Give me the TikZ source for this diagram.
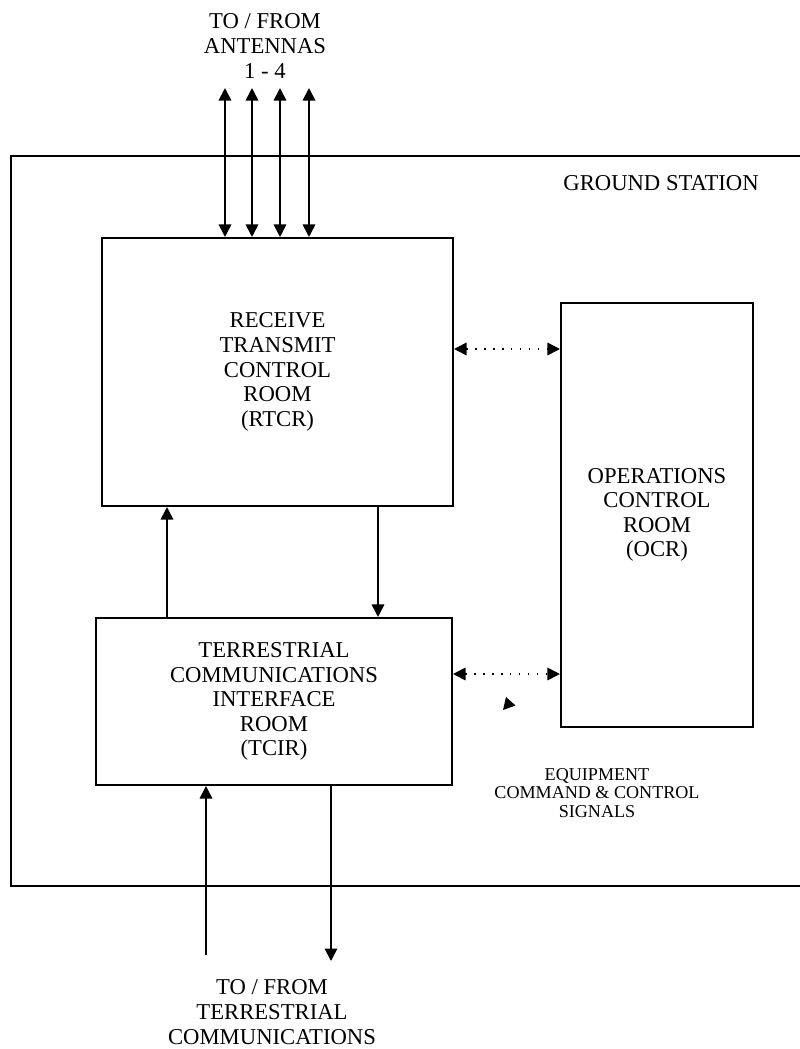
\documentclass[tikz,border=0pt]{standalone}
\usepackage{fontspec}
\setmainfont{Liberation Serif}
\usetikzlibrary{arrows.meta, positioning, calc}

\newcommand{\mainsize}{\fontsize{12.9}{14}\selectfont}
\newcommand{\smallsize}{\fontsize{10.3}{10.6}\selectfont}

\begin{document}
\begin{tikzpicture}[x=0.02cm, y=-0.02cm,
    room/.style={draw, line width=1.2pt, align=center, font=\mainsize, inner sep=0pt},
    link/.style={-{Triangle[length=2.5mm, width=2.5mm]}, line width=1pt},
    both/.style={{Triangle[length=2.5mm, width=2.5mm]}-{Triangle[length=2.5mm, width=2.5mm]}, line width=1pt},
    ctrl/.style={{Triangle[length=2.5mm, width=2.5mm]}-{Triangle[length=2.5mm, width=2.5mm]}, line width=1pt,
      dash pattern=on 0.9pt off 4.2pt},
    caption/.style={align=center, font=\mainsize, inner sep=0pt}]
  \useasboundingbox (0,0) rectangle (800,1049);

  % ground station outline (runs off the right edge)
  \draw[line width=1.3pt] (800,156) -- (11,156) -- (11,886) -- (800,886);
  \node[caption, anchor=east] (gs) at (759,183) {GROUND STATION};

  % rooms
  \node[room, minimum width=7.02cm, minimum height=5.36cm] (rtcr) at (277.5,372)
    {RECEIVE\\TRANSMIT\\CONTROL\\ROOM\\(RTCR)};
  \node[room, minimum width=7.12cm, minimum height=3.34cm] (tcir) at (274,701.5)
    {TERRESTRIAL\\COMMUNICATIONS\\INTERFACE\\ROOM\\(TCIR)};
  \node[room, minimum width=3.84cm, minimum height=8.48cm] (ocr) at (657,515)
    {OPERATIONS\\CONTROL\\ROOM\\(OCR)};

  % antennas
  \node[caption] (ant) at (265,46) {TO / FROM\\ANTENNAS\\1 - 4};
  \coordinate (a1) at (225,88);
  \coordinate (a2) at (252,88);
  \coordinate (a3) at (280,88);
  \coordinate (a4) at (309,88);
  \foreach \a in {a1,a2,a3,a4}
    \draw[both] (\a) -- (\a |- rtcr.north);

  % between rooms
  \coordinate (up1) at (167,0);
  \coordinate (dn1) at (378,0);
  \draw[link] (up1 |- tcir.north) -- (up1 |- rtcr.south);
  \draw[link] (dn1 |- rtcr.south) -- (dn1 |- tcir.north);

  % command & control
  \coordinate (c1) at (0,349);
  \coordinate (c2) at (0,674);
  \draw[ctrl] (rtcr.east |- c1) -- (ocr.west |- c1);
  \draw[ctrl] (tcir.east |- c2) -- (ocr.west |- c2);
  % loose arrowhead
  \fill (506,697) -- (503,710) -- (515.5,705.5) -- cycle;
  \node[align=center, font=\smallsize, inner sep=0pt] (sig) at (597,793)
    {EQUIPMENT\\COMMAND \& CONTROL\\SIGNALS};

  % terrestrial
  \coordinate (t1) at (206,955);
  \coordinate (t2) at (331,961);
  \draw[link] (t1) -- (t1 |- tcir.south);
  \draw[link] (t2 |- tcir.south) -- (t2);
  \node[caption] (terr) at (272,1012) {TO / FROM\\TERRESTRIAL\\COMMUNICATIONS};
\end{tikzpicture}
\end{document}
